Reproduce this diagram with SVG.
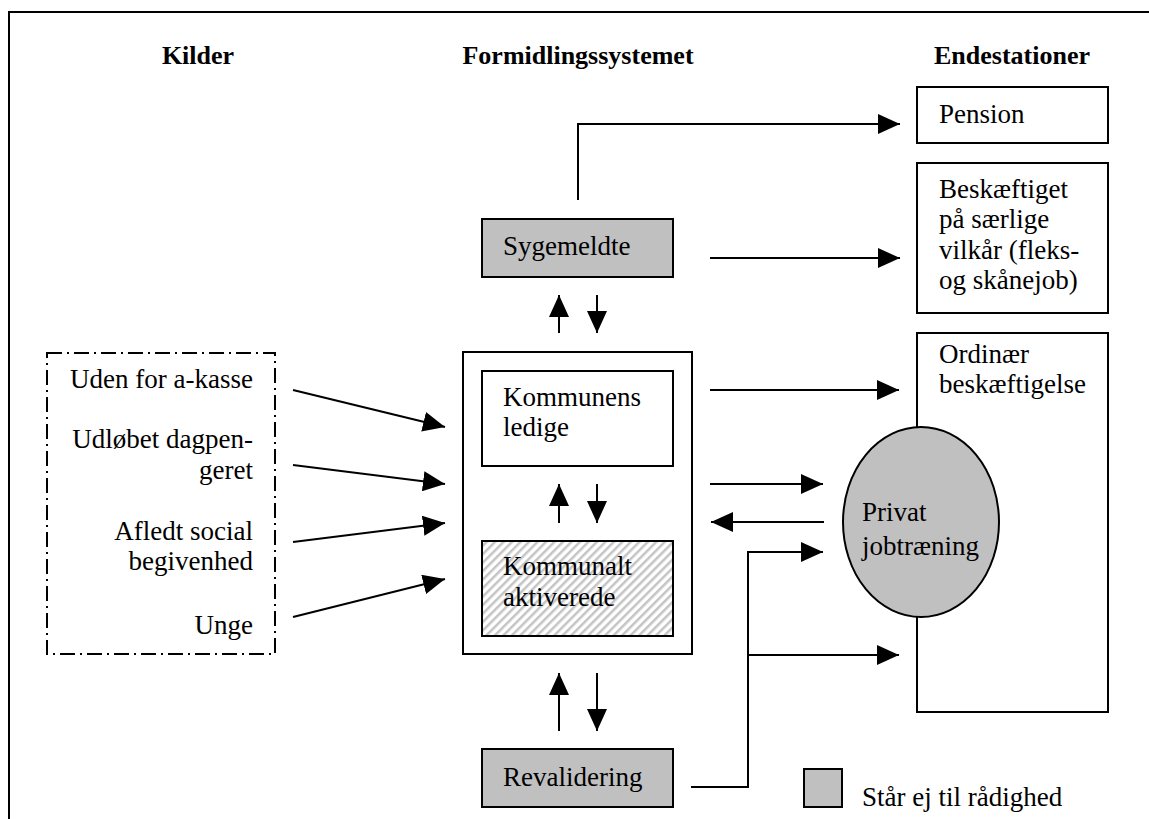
<svg xmlns="http://www.w3.org/2000/svg" width="1149" height="819" viewBox="0 0 1149 819">
<style>
text{font-family:"Liberation Serif","Times New Roman",serif;font-size:27px;fill:#000}
.h{font-weight:bold;text-anchor:middle;font-size:26px}
.r{text-anchor:end}
.box{fill:#fff;stroke:#000;stroke-width:2}
.grey{fill:#c0c0c0;stroke:#000;stroke-width:2}
.c{fill:none;stroke:#000;stroke-width:2;marker-end:url(#arr)}
.p{fill:none;stroke:#000;stroke-width:2}
</style>
<defs>
<marker id="arr" viewBox="0 0 22 20" refX="22" refY="10" markerWidth="22" markerHeight="20" markerUnits="userSpaceOnUse" orient="auto">
<path d="M0,0 L22,10 L0,20 z" fill="#000"/>
</marker>
<pattern id="hatch" patternUnits="userSpaceOnUse" width="6" height="6" patternTransform="rotate(45)">
<rect width="6" height="6" fill="#fff"/>
<rect x="0" y="0" width="2.5" height="6" fill="#c4c4c4"/>
</pattern>
</defs>
<rect width="1149" height="819" fill="#fff"/>
<g id="frame">
<path d="M9,819 V12 H1149" class="p"/>
</g>
<g id="headers">
<text class="h" x="198" y="64">Kilder</text>
<text class="h" x="578" y="64">Formidlingssystemet</text>
<text class="h" x="1012" y="64">Endestationer</text>
</g>
<g id="kilder">
<rect x="47" y="353" width="228" height="301" fill="none" stroke="#000" stroke-width="2" stroke-dasharray="15 5 2 5"/>
<text class="r" x="253" y="388">Uden for a-kasse</text>
<text class="r" x="253" y="448">Udløbet dagpen-</text>
<text class="r" x="253" y="479">geret</text>
<text class="r" x="253" y="540">Afledt social</text>
<text class="r" x="253" y="570">begivenhed</text>
<text class="r" x="253" y="634">Unge</text>
</g>
<g id="sygemeldte">
<rect class="grey" x="482" y="219" width="191" height="58"/>
<text x="503" y="255">Sygemeldte</text>
</g>
<g id="kommune">
<rect class="box" x="463" y="352" width="229" height="302"/>
</g>
<g id="kommunens-ledige">
<rect class="box" x="482" y="371" width="191" height="95"/>
<text x="503" y="406">Kommunens</text>
<text x="503" y="436">ledige</text>
</g>
<g id="kommunalt-aktiverede">
<rect x="482" y="541" width="191" height="95" fill="url(#hatch)" stroke="#000" stroke-width="2"/>
<text x="503" y="575">Kommunalt</text>
<text x="503" y="606">aktiverede</text>
</g>
<g id="revalidering">
<rect class="grey" x="482" y="749" width="191" height="58"/>
<text x="503" y="786">Revalidering</text>
</g>
<g id="pension">
<rect class="box" x="917" y="87" width="191" height="56"/>
<text x="939" y="123">Pension</text>
</g>
<g id="beskaeftiget">
<rect class="box" x="917" y="163" width="191" height="150"/>
<text x="939" y="198">Beskæftiget</text>
<text x="939" y="228">på særlige</text>
<text x="939" y="259">vilkår (fleks-</text>
<text x="939" y="289">og skånejob)</text>
</g>
<g id="ordinaer">
<rect class="box" x="917" y="333" width="191" height="379"/>
<text x="939" y="363">Ordinær</text>
<text x="939" y="393">beskæftigelse</text>
</g>
<g id="privat">
<ellipse cx="921" cy="522" rx="78" ry="95" class="grey"/>
<text x="862" y="521">Privat</text>
<text x="862" y="555">jobtræning</text>
</g>
<g id="legend">
<rect class="grey" x="804" y="769" width="38" height="38"/>
<text x="862" y="806">Står ej til rådighed</text>
</g>
<g id="connectors">
<path class="c" d="M578,200 V124 H900"/>
<path class="c" d="M710,258 H900"/>
<path class="c" d="M559,333 V295"/>
<path class="c" d="M597,295 V333"/>
<path class="c" d="M293,390 L445,427"/>
<path class="c" d="M293,465 L445,484"/>
<path class="c" d="M293,542 L445,523"/>
<path class="c" d="M293,617 L445,579"/>
<path class="c" d="M559,523 V484"/>
<path class="c" d="M597,484 V523"/>
<path class="c" d="M559,731 V673"/>
<path class="c" d="M597,673 V731"/>
<path class="c" d="M710,390 H899"/>
<path class="c" d="M710,484 H823"/>
<path class="c" d="M824,522 H711"/>
<path class="c" d="M691,787 H748 V552 H823"/>
<path class="c" d="M748,655 H899"/>
</g>
</svg>
